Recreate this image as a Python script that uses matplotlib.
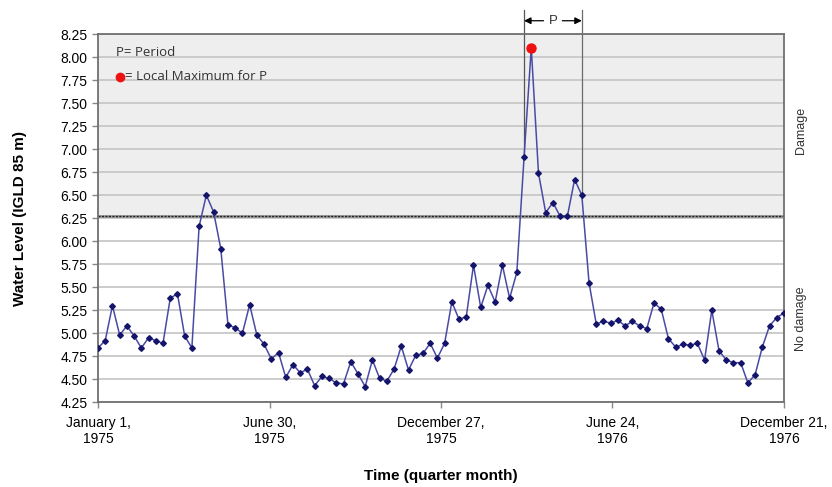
import numpy as np
import matplotlib
matplotlib.use("Agg")
import matplotlib.pyplot as plt

plt.rcParams['font.family'] = ['Liberation Sans', 'DejaVu Sans']

# Water level per quarter month, Jan 1975 - Dec 1976 (96 values)
water_level = [
    4.84, 4.92, 5.30, 4.98, 5.08, 4.97, 4.84, 4.95, 4.92, 4.89,
    5.38, 5.43, 4.97, 4.84, 6.16, 6.50, 6.32, 5.92, 5.09, 5.06,
    5.00, 5.31, 4.98, 4.88, 4.72, 4.79, 4.52, 4.66, 4.57, 4.61,
    4.43, 4.53, 4.51, 4.46, 4.45, 4.69, 4.56, 4.42, 4.71, 4.51,
    4.48, 4.61, 4.86, 4.60, 4.76, 4.78, 4.89, 4.73, 4.89, 5.34,
    5.15, 5.18, 5.74, 5.28, 5.52, 5.34, 5.74, 5.38, 5.66, 6.91,
    8.10, 6.74, 6.31, 6.42, 6.27, 6.27, 6.67, 6.50, 5.55, 5.10,
    5.13, 5.11, 5.14, 5.08, 5.13, 5.08, 5.05, 5.33, 5.26, 4.94,
    4.85, 4.88, 4.87, 4.89, 4.71, 5.25, 4.81, 4.71, 4.68, 4.68,
    4.46, 4.55, 4.85, 5.08, 5.17, 5.22,
]
tick_labels = ["January 1,\n1975", "June 30,\n1975", "December 27,\n1975",
               "June 24,\n1976", "December 21,\n1976"]
damage_threshold = 6.27
period_start = 59   # index of first point of period P
period_end = 67     # index of last point of period P

y = np.array(water_level)
x = np.arange(len(y))
ymin, ymax = 4.25, 8.25

fig = plt.figure(figsize=(8.32, 4.87), dpi=100)
ax = fig.add_axes([0.1178, 0.174, 0.8245, 0.756])

ax.axhspan(damage_threshold, ymax, color='#EEEEEE', zorder=0.2)
ax.set_axisbelow(True)
ax.yaxis.grid(True, color='#C4C4C4', lw=1.2, zorder=0.5)
ax.axhline(damage_threshold, color='#999999', lw=2.0, zorder=1)
ax.axhline(damage_threshold, color='#222222', lw=1.0, ls=(0, (1.5, 1.0)), zorder=1.1)

ax.plot(x, y, color='#4A4AA6', lw=1.1, marker='D', ms=2.9,
        mfc='#14146A', mec='#14146A', zorder=3)
peak = int(np.argmax(y))
ax.plot(x[peak], y[peak], 'o', color='#EE1111', ms=6.5, zorder=4)

# Period markers
top = ymax + 0.26
arrow_y = ymax + 0.145
for idx, col in ((period_start, '#555555'), (period_end, '#6A6A6A')):
    ax.plot([x[idx], x[idx]], [y[idx], top], color=col, lw=0.9,
            clip_on=False, zorder=2)
mid = (x[period_start] + x[period_end]) / 2
ax.text(mid, arrow_y, "P", ha='center', va='center', fontsize=9.5,
        color='#333333', clip_on=False)
ax.annotate("", xy=(x[period_start], arrow_y), xytext=(mid - 1.3, arrow_y),
            arrowprops=dict(arrowstyle='-|>', color='black', lw=0.9,
                            mutation_scale=10, shrinkA=0, shrinkB=0),
            annotation_clip=False)
ax.annotate("", xy=(x[period_end], arrow_y), xytext=(mid + 1.3, arrow_y),
            arrowprops=dict(arrowstyle='-|>', color='black', lw=0.9,
                            mutation_scale=10, shrinkA=0, shrinkB=0),
            annotation_clip=False)

# Key text
ax.text(2.5, 8.05, "P= Period", fontsize=9.5, color='#333333', va='center',
        family=['Open Sans', 'DejaVu Sans'])
ax.plot([3.1], [7.785], 'o', color='#EE1111', ms=6, clip_on=False, zorder=4)
ax.text(3.75, 7.785, "= Local Maximum for P", fontsize=9.5, color='#333333',
        va='center', family=['Open Sans', 'DejaVu Sans'])

ax.set_xlim(0, len(y) - 1)
ax.set_ylim(ymin, ymax)
ax.set_yticks(np.arange(ymin, ymax + 0.001, 0.25))
ax.set_yticklabels([f"{v:.2f}" for v in np.arange(ymin, ymax + 0.001, 0.25)],
                   fontsize=10)
ax.set_xticks(np.linspace(0, len(y) - 1, len(tick_labels)))
ax.set_xticklabels(tick_labels, fontsize=10)
ax.tick_params(axis='both', colors='#888888', labelcolor='black', length=4,
               width=1)
ax.tick_params(axis='x', pad=6)

for s in ax.spines.values():
    s.set_color('#707070')
    s.set_linewidth(1.3)

ax.set_ylabel("Water Level (IGLD 85 m)", fontsize=11, fontweight='bold',
              labelpad=24)
ax.set_xlabel("Time (quarter month)", fontsize=11, fontweight='bold',
              labelpad=16)

fig.text(0.963, 0.733, "Damage", rotation=90, ha='center', va='center',
         fontsize=9, color='#333333')
fig.text(0.963, 0.345, "No damage", rotation=90, ha='center', va='center',
         fontsize=9, color='#333333')

fig.savefig("out.png", dpi=100)
